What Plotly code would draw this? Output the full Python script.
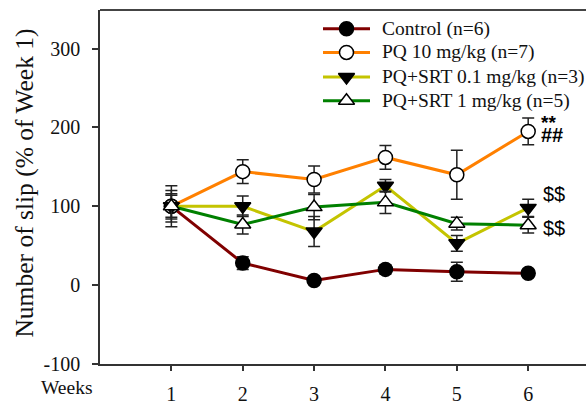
import plotly.graph_objects as go

# Weekly slip counts, expressed as % of week 1 (mean ± SEM)
weeks = [1, 2, 3, 4, 5, 6]

control = [100, 28, 6, 20, 17, 15]
control_err = [26, 8, 4, 6, 12, 5]

pq10 = [100, 144, 134, 162, 140, 195]
pq10_err = [16, 15, 17, 15, 31, 17]

srt01 = [100, 100, 68, 126, 53, 98]
srt01_err = [20, 13, 19, 8, 10, 11]

srt1 = [100, 77, 99, 105, 78, 76]
srt1_err = [14, 12, 16, 14, 8, 10]

names = ["Control (n=6)", "PQ 10 mg/kg (n=7)",
         "PQ+SRT 0.1 mg/kg (n=3)", "PQ+SRT 1 mg/kg (n=5)"]

y_ticks = [-100, 0, 100, 200, 300]
y_tick_text = ["-100", "0", "100", "200", "300"]

FONT = "Times New Roman, Liberation Serif, serif"
SANS = "Arial, Liberation Sans, sans-serif"

series = [
    (control, control_err, "#800000", "circle", "black"),
    (pq10, pq10_err, "#FF8000", "circle", "white"),
    (srt01, srt01_err, "#C4C400", "triangle-down", "black"),
    (srt1, srt1_err, "#008000", "triangle-up", "white"),
]

fig = go.Figure()
for (vals, errs, color, symbol, fill), name in zip(series, names):
    fig.add_trace(go.Scatter(
        x=weeks, y=vals, name=name, mode="lines+markers", showlegend=False,
        line=dict(color=color, width=3),
        marker=dict(symbol=symbol, size=14, color=fill,
                    line=dict(color="black", width=1.5)),
        error_y=dict(type="data", array=errs, visible=True,
                     color="#222222", thickness=1.5, width=6),
    ))

# Key drawn on an overlay axis whose units are pixels of the plot area
key_x0, key_x1, key_text_x = 323, 370, 380
key_rows = [29, 53, 78, 102]
for (vals, errs, color, symbol, fill), name, ky in zip(series, names, key_rows):
    fig.add_trace(go.Scatter(
        x=[key_x0, key_x1], y=[ky, ky],
        xaxis="x2", yaxis="y2", mode="lines", showlegend=False, hoverinfo="skip",
        line=dict(color=color, width=3), cliponaxis=False,
    ))
    fig.add_trace(go.Scatter(
        x=[(key_x0 + key_x1) / 2], y=[ky], xaxis="x2", yaxis="y2",
        mode="markers", showlegend=False, hoverinfo="skip", cliponaxis=False,
        marker=dict(symbol=symbol, size=14, color=fill,
                    line=dict(color="black", width=1.5)),
    ))
    fig.add_annotation(x=key_text_x, y=ky, xref="x2", yref="y2", text=name,
                       showarrow=False, xanchor="left", yanchor="middle",
                       font=dict(family=FONT, size=19.5, color="#111111"))

# significance marks beside the week 6 points (stacked ** over ##)
fig.add_annotation(x=539, y=124, xref="x2", yref="y2", text="<b>**</b>", showarrow=False,
                   xanchor="left", yanchor="middle",
                   font=dict(family=SANS, size=19, color="black"))
fig.add_annotation(x=539, y=137, xref="x2", yref="y2", text="<b>##</b>", showarrow=False,
                   xanchor="left", yanchor="middle",
                   font=dict(family=SANS, size=20, color="black"))
fig.add_annotation(x=6, y=116, text="$$", showarrow=False, xanchor="left",
                   xshift=13, font=dict(family=SANS, size=20, color="black"))
fig.add_annotation(x=6, y=73, text="$$", showarrow=False, xanchor="left",
                   xshift=13, font=dict(family=SANS, size=20, color="black"))

# y-axis title and the "Weeks" label left of the x tick labels
fig.add_annotation(xref="x domain", yref="y domain",
                   x=-75 / 486, y=(369 - 186) / 359, xanchor="center", yanchor="middle",
                   text="Number of slip (% of Week 1)", textangle=-90,
                   showarrow=False, font=dict(family=FONT, size=25.5, color="#111111"))
fig.add_annotation(xref="x domain", yref="y domain", x=-5 / 486, y=-24 / 359,
                   text="Weeks", showarrow=False, xanchor="right", yanchor="middle",
                   font=dict(family=FONT, size=19.5, color="#111111"))

# top frame line
fig.add_shape(type="line", xref="x domain", yref="y domain",
              x0=0, x1=1, y0=1, y1=1, line=dict(color="#444444", width=2))

fig.update_layout(
    xaxis=dict(range=[0, 6.81], tickvals=weeks, ticktext=[str(w) for w in weeks],
               showgrid=False, zeroline=False, showline=True,
               linecolor="#333333", linewidth=1.5,
               ticks="outside", ticklen=5, tickwidth=1.5, tickcolor="#333333",
               ticklabelstandoff=6,
               tickfont=dict(family=FONT, size=20, color="#111111")),
    yaxis=dict(range=[-100, 349], tickvals=y_ticks, ticktext=y_tick_text,
               showgrid=False, zeroline=False, showline=True,
               linecolor="#333333", linewidth=1.5,
               ticks="outside", ticklen=6, tickwidth=1.5, tickcolor="#333333",
               ticklabelstandoff=8,
               tickfont=dict(family=FONT, size=20, color="#111111")),
    xaxis2=dict(overlaying="x", range=[100, 586], visible=False, fixedrange=True),
    yaxis2=dict(overlaying="y", range=[369, 10], visible=False, fixedrange=True),
    width=586, height=405,
    margin=dict(l=100, r=0, t=10, b=36),
    plot_bgcolor="white", paper_bgcolor="white",
    font=dict(family=FONT),
    showlegend=False,
)

fig.write_html("out.html")
